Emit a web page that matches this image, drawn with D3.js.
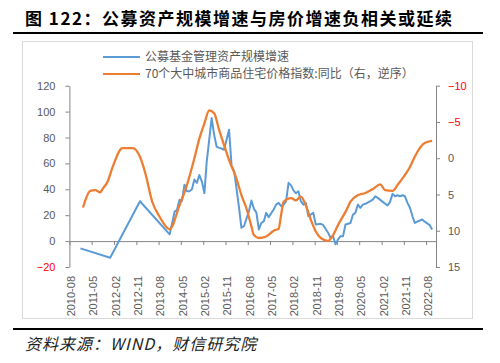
<!DOCTYPE html>
<html>
<head>
<meta charset="utf-8">
<title>公募资产规模增速与房价增速</title>
<script src="https://d3js.org/d3.v7.min.js"></script>
<style>
  body { margin: 0; background: #fff; }
  svg text { font-family: "Liberation Sans", Arial, sans-serif; }
  .cjk { font-family: "Noto Sans CJK SC", sans-serif !important; }
</style>
</head>
<body>
<svg width="500" height="363"></svg>
<script>
// x tick labels (every 9 months)
var tickLabels = ["2010-08","2011-05","2012-02","2012-11","2013-08","2014-05","2015-02","2015-11",
  "2016-08","2017-05","2018-02","2018-11","2019-08","2020-05","2021-02","2021-11","2022-08"];

var leftTicks = [-20, 0, 20, 40, 60, 80, 100, 120];
var rightTicks = [-10, -5, 0, 5, 10, 15];

// 公募基金管理资产规模增速 (%), left axis
var fundGrowth = [
  ["2010-12",-5.6],["2011-12",-12.8],["2012-12",30.8],["2013-12",5.2],
  ["2014-02",23],["2014-03",24],["2014-04",32],["2014-05",31],["2014-06",43.6],["2014-07",38.5],
  ["2014-08",38.5],["2014-09",40],["2014-10",47.5],["2014-11",45],["2014-12",51],["2015-01",46],
  ["2015-02",37],["2015-03",61],["2015-05",95],["2015-06",82],["2015-07",73],["2015-08",72],
  ["2015-09",71.5],["2015-10",70.5],["2015-12",86],["2016-01",58],["2016-02",54],["2016-03",41],
  ["2016-04",26],["2016-05",10.3],["2016-06",11.5],["2016-08",23],["2016-09",31.3],["2016-10",25],
  ["2016-11",22],["2016-12",9],["2017-01",14],["2017-02",15.4],["2017-03",21.8],["2017-04",18.5],
  ["2017-06",24.4],["2017-07",28.2],["2017-08",29.5],["2017-09",27],["2017-10",28.2],["2017-11",30.8],
  ["2017-12",45],["2018-01",43],["2018-02",39],["2018-03",37],["2018-04",38.5],["2018-05",30.8],
  ["2018-06",28.2],["2018-07",29.5],["2018-08",19.2],["2018-10",21.8],["2018-11",12.8],["2019-01",13.4],
  ["2019-02",12.3],["2019-04",6.5],["2019-05",2.6],["2019-06",3.8],["2019-07",-2.5],["2019-08",1.3],
  ["2019-09",3.8],["2019-10",3.8],["2019-11",12.8],["2020-01",14],["2020-02",20.5],["2020-03",21.8],
  ["2020-04",28.2],["2020-05",25.7],["2020-06",28.2],["2020-07",28.8],["2020-09",30.8],["2020-10",32],
  ["2020-11",34.6],["2020-12",33.4],["2021-02",30.3],["2021-04",27.5],["2021-05",30.3],["2021-06",36.5],
  ["2021-07",34.6],["2021-08",35.4],["2021-09",34.6],["2021-10",35.4],["2021-11",34.6],["2021-12",29.5],
  ["2022-01",25.7],["2022-02",19.2],["2022-03",14],["2022-04",15],["2022-06",16.7],["2022-07",15],
  ["2022-09",12.3],["2022-10",9]
];

// 70个大中城市商品住宅价格指数:同比 (%), right axis, reversed
var housePrice = [
  ["2011-01",6.8],["2011-04",4.5],["2011-06",4.4],["2011-08",4.7],["2011-09",4.2],["2011-11",3.2],
  ["2012-01",1.2],["2012-05",-1.4],["2012-09",-1.4],["2012-12",-0.2],["2013-02",1.9],["2013-05",6],
  ["2013-08",8.1],["2013-11",9.6],["2013-12",9.8],["2014-04",6.5],["2014-07",3.7],["2014-10",0],
  ["2014-12",-2.7],["2015-02",-4.8],["2015-04",-6.6],["2015-06",-6.2],["2015-08",-3.9],["2015-10",-1.8],
  ["2015-12",0.25],["2016-03",2.8],["2016-05",5.1],["2016-07",6.9],["2016-09",9.4],["2016-10",10.6],
  ["2016-12",11],["2017-03",10.8],["2017-06",10],["2017-08",9.7],["2017-09",7.8],["2017-10",6],
  ["2018-01",5.5],["2018-03",5.8],["2018-05",5.3],["2018-07",6.5],["2018-09",8.5],["2018-11",10.1],
  ["2019-01",11],["2019-04",11.4],["2019-06",10.6],["2019-08",9.2],["2019-11",7.4],["2020-01",6],
  ["2020-04",5.1],["2020-07",4.8],["2020-10",4.25],["2021-01",3.6],["2021-03",4.4],["2021-06",4.5],
  ["2021-08",3.7],["2021-11",2.3],["2022-01",1.2],["2022-03",-0.2],["2022-05",-1.4],["2022-07",-2.1],
  ["2022-10",-2.4]
];

var svg = d3.select("svg");
var parseMonth = d3.timeParse("%Y-%m");
function mid(s) { var d = parseMonth(s); return new Date(d.getFullYear(), d.getMonth(), 15); }

var x = d3.scaleTime()
    .domain([new Date(2010, 7, 1), new Date(2022, 11, 1)])
    .range([69.4, 436]);
var yL = d3.scaleLinear().domain([-20, 120]).range([267, 85.7]);
var yR = d3.scaleLinear().domain([-10, 15]).range([85.7, 267]);   // reversed

var gray = "#595959", axisGray = "#868686", red = "#ff0000";

// title
svg.append("text")
    .attr("class", "cjk")
    .attr("x", 25).attr("y", 25)
    .attr("font-size", 17).attr("font-weight", "bold")
    .attr("letter-spacing", 1.5)
    .attr("fill", "#000")
    .text("图 122：公募资产规模增速与房价增速负相关或延续");

svg.append("line").attr("x1", 13).attr("x2", 483).attr("y1", 33).attr("y2", 33)
    .attr("stroke", "#000").attr("stroke-width", 2.2);

// chart frame
svg.append("rect").attr("x", 22.5).attr("y", 41.5).attr("width", 450).attr("height", 277)
    .attr("fill", "none").attr("stroke", "#d9d9d9");

// legend
var legend = [
  {name: "公募基金管理资产规模增速", color: "#5B9BD5", y: 57},
  {name: "70个大中城市商品住宅价格指数:同比（右，逆序）", color: "#ED7D31", y: 74}
];
legend.forEach(function(d) {
  svg.append("line").attr("x1", 103).attr("x2", 140).attr("y1", d.y).attr("y2", d.y)
      .attr("stroke", d.color).attr("stroke-width", 2.2);
  svg.append("text").attr("class", "cjk").attr("x", 145).attr("y", d.y).attr("dy", "0.36em")
      .attr("font-size", 12).attr("fill", gray).text(d.name);
});

// left axis
var gl = svg.append("g").attr("transform", "translate(" + x.range()[0] + ",0)")
    .call(d3.axisLeft(yL).tickValues(leftTicks).tickSize(4).tickSizeOuter(0).tickPadding(10));
gl.selectAll("path, line").attr("stroke", axisGray);
gl.selectAll("text").attr("font-size", 11).attr("font-family", "Liberation Sans, Arial, sans-serif")
    .attr("fill", function(d) { return d < 0 ? red : gray; });

// right axis
var gr = svg.append("g").attr("transform", "translate(" + x.range()[1] + ",0)")
    .call(d3.axisRight(yR).tickValues(rightTicks).tickSize(4).tickSizeOuter(0).tickPadding(8));
gr.selectAll("path, line").attr("stroke", axisGray);
gr.selectAll("text").attr("font-size", 11).attr("font-family", "Liberation Sans, Arial, sans-serif")
    .attr("fill", function(d) { return d < 0 ? red : gray; });

// x axis at zero, labels low
var labelOffset = yL(-20) + 9 - yL(0);
var gx = svg.append("g").attr("transform", "translate(0," + yL(0) + ")")
    .call(d3.axisBottom(x).tickValues(tickLabels.map(parseMonth))
      .tickFormat(d3.timeFormat("%Y-%m")).tickSize(4).tickSizeOuter(0));
gx.selectAll("path, line").attr("stroke", axisGray);
gx.selectAll("text")
    .attr("font-size", 11).attr("font-family", "Liberation Sans, Arial, sans-serif").attr("fill", gray)
    .attr("transform", "rotate(-90)")
    .attr("text-anchor", "end")
    .attr("x", -labelOffset).attr("y", 1.5).attr("dy", "0.35em");

// lines
var lineL = d3.line().x(function(d) { return x(mid(d[0])); }).y(function(d) { return yL(d[1]); });
var lineR = d3.line().curve(d3.curveMonotoneX)
    .x(function(d) { return x(mid(d[0])); }).y(function(d) { return yR(d[1]); });

svg.append("path").datum(fundGrowth).attr("d", lineL)
    .attr("fill", "none").attr("stroke", "#5B9BD5").attr("stroke-width", 2)
    .attr("stroke-linejoin", "round");
svg.append("path").datum(housePrice).attr("d", lineR)
    .attr("fill", "none").attr("stroke", "#ED7D31").attr("stroke-width", 2.3)
    .attr("stroke-linejoin", "round");

// bottom rule and source
svg.append("line").attr("x1", 13).attr("x2", 483).attr("y1", 329).attr("y2", 329)
    .attr("stroke", "#000").attr("stroke-width", 2.2);
svg.append("text").attr("class", "cjk")
    .attr("x", 25).attr("y", 350)
    .attr("font-size", 16).attr("font-style", "italic").attr("fill", "#222")
    .attr("letter-spacing", 1)
    .text("资料来源：WIND，财信研究院");
</script>
</body>
</html>
